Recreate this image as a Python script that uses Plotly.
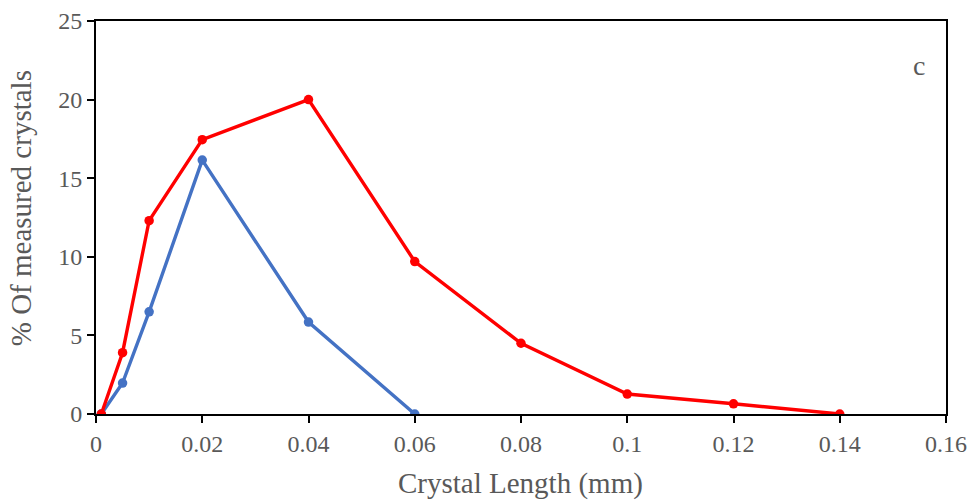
import plotly.graph_objects as go

red_x = [0.001, 0.005, 0.01, 0.02, 0.04, 0.06, 0.08, 0.1, 0.12, 0.14]
red_y = [0, 3.9, 12.3, 17.45, 20.0, 9.7, 4.5, 1.27, 0.65, 0]
blue_x = [0.001, 0.005, 0.01, 0.02, 0.04, 0.06]
blue_y = [0, 1.97, 6.5, 16.15, 5.85, 0]
x_ticks = [0, 0.02, 0.04, 0.06, 0.08, 0.1, 0.12, 0.14, 0.16]
x_labels = ["0", "0.02", "0.04", "0.06", "0.08", "0.1", "0.12", "0.14", "0.16"]
y_ticks = [0, 5, 10, 15, 20, 25]

GRAY = "#595959"
FONT = "Liberation Serif"

fig = go.Figure()
fig.add_trace(go.Scatter(x=blue_x, y=blue_y, mode="lines+markers",
                         line=dict(color="#4472C4", width=3.4),
                         marker=dict(color="#4472C4", size=9.5), showlegend=False))
fig.add_trace(go.Scatter(x=red_x, y=red_y, mode="lines+markers",
                         line=dict(color="#FF0000", width=3.4),
                         marker=dict(color="#FF0000", size=9.5), showlegend=False))

fig.add_annotation(x=0.155, y=22.2, text="c", showarrow=False,
                   font=dict(family=FONT, size=28, color=GRAY))
fig.add_annotation(xref="paper", yref="paper", x=0.499, y=-0.178,
                   xanchor="center", yanchor="middle", showarrow=False,
                   text="Crystal Length (mm)", font=dict(family=FONT, size=29, color=GRAY))
fig.add_annotation(xref="paper", yref="paper", x=-0.088, y=0.524,
                   xanchor="center", yanchor="middle", showarrow=False, textangle=-90,
                   text="% Of measured crystals", font=dict(family=FONT, size=29, color=GRAY))

fig.update_layout(
    width=971, height=502,
    margin=dict(l=96, r=25, t=21, b=88),
    paper_bgcolor="white", plot_bgcolor="white",
    font=dict(family=FONT, color=GRAY, size=24),
)
fig.update_xaxes(range=[0, 0.16], tickvals=x_ticks, ticktext=x_labels, automargin=False,
                 ticklabeloverflow="allow",
                 showgrid=False, zeroline=False, showline=True, linecolor="black",
                 linewidth=2, mirror=True, ticks="outside", ticklen=7, tickwidth=2,
                 tickcolor="black", tickfont=dict(family=FONT, size=24, color=GRAY))
fig.update_yaxes(range=[0, 25], tickvals=y_ticks, automargin=False,
                 ticklabeloverflow="allow",
                 showgrid=False, zeroline=False, showline=True, linecolor="black",
                 linewidth=2, mirror=True, ticks="outside", ticklen=7, tickwidth=2,
                 tickcolor="black", tickfont=dict(family=FONT, size=24, color=GRAY))

# remove the default 8px page margin so the figure fills the window exactly
fig.write_html("out.html", config={"displayModeBar": False},
               post_script="document.body.style.margin='0';")
